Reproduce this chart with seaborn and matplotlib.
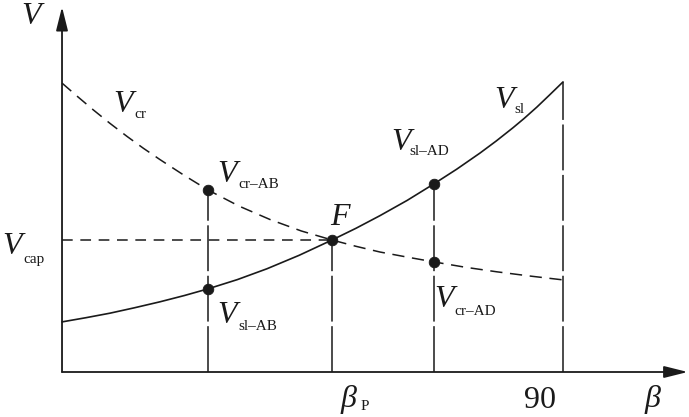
import numpy as np
import pandas as pd
import seaborn as sns
import matplotlib.pyplot as plt

# curve readings (beta in degrees, V in arbitrary units)
beta_sl = [0, 4.3, 8.6, 13.0, 17.6, 22.0, 26.2, 31.5, 36.8, 42.6, 48.5,
           52.8, 57.1, 62.0, 66.8, 70.9, 75.1, 78.0, 81.0, 83.0, 85.3,
           87.5, 90]
v_sl = [16.7, 18.1, 19.6, 21.4, 23.4, 25.5, 27.7, 30.8, 34.4, 38.9, 44.0,
        47.9, 52.1, 57.2, 62.7, 67.6, 73.0, 77.0, 81.4, 84.5, 88.3,
        92.2, 96.7]

beta_cr = [0, 2.8, 5.6, 8.6, 11.7, 14.6, 17.6, 21.9, 26.2, 31.8, 37.4,
           43.0, 48.5, 52.8, 57.1, 62.0, 66.8, 72.5, 78.1, 84.0, 90]
v_cr = [96.3, 91.8, 87.4, 82.9, 78.5, 74.6, 70.8, 65.6, 60.7, 55.3, 50.8,
        47.0, 44.0, 41.9, 40.0, 38.3, 36.7, 34.9, 33.4, 32.0, 30.7]

# marked points
pt_beta = [26.2, 26.2, 48.5, 66.8, 66.8]
pt_v = [60.7, 27.7, 44.0, 62.7, 36.7]

# guide lines
guide_beta = [26.2, 48.5, 66.8, 90]
guide_top = [60.7, 44.0, 62.7, 96.7]
v_cap = 44.0
beta_p = 48.5

W, H = 689, 417

sns.set_style("white")
plt.rcParams['font.family'] = ['Liberation Serif', 'DejaVu Serif']

fig = plt.figure(figsize=(W / 100, H / 100), dpi=100)
ax = fig.add_axes([0, 0, 1, 1])
ax.set_xlim(-11.14, 112.63)
ax.set_ylim(-15, 124)
ax.axis('off')

ink = '#1a1a1a'

sl_df = pd.DataFrame({'beta': beta_sl, 'V': v_sl})
cr_df = pd.DataFrame({'beta': beta_cr, 'V': v_cr})
sns.lineplot(data=sl_df, x='beta', y='V', ax=ax, color=ink, lw=1.2,
             sort=False, estimator=None)
sns.lineplot(data=cr_df, x='beta', y='V', ax=ax, color=ink, lw=1.1,
             sort=False, estimator=None, linestyle=(0, (8, 5)))

# vertical guides and V_cap level
ax.vlines(guide_beta, 0, guide_top, colors=ink, lw=1.1,
          linestyles=[(0, (30, 3))])
ax.hlines(v_cap, 0, beta_p, colors=ink, lw=1.1, linestyles=[(0, (7, 5))])

sns.scatterplot(x=pt_beta, y=pt_v, ax=ax, color=ink, s=58,
                edgecolor=ink, zorder=5)

# axes with arrows
arrow = dict(arrowstyle='-|>,head_length=0.8,head_width=0.2', lw=1.3,
             color=ink, mutation_scale=18, shrinkA=0, shrinkB=0)
ax.annotate('', xy=(0, 121.7), xytext=(0, 0), arrowprops=arrow)
ax.annotate('', xy=(112.4, 0), xytext=(0, 0), arrowprops=arrow)


def put(x, y, s, size, style='normal'):
    fig.text(x / W, 1 - y / H, s, fontsize=size, fontstyle=style,
             ha='left', va='baseline', color=ink)


def vlabel(x, y, sub, dx, dy, main='V'):
    put(x, y, main, 23, 'italic')
    put(x + dx, y + dy, sub, 11)


put(21, 24, 'V', 23, 'italic')
vlabel(113, 112, 'cr', 21, 6)
vlabel(217, 182, 'cr\u2013AB', 21, 6)
vlabel(2, 254, 'cap', 21, 9)
vlabel(217, 323, 'sl\u2013AB', 21, 7)
vlabel(391, 150, 'sl\u2013AD', 18, 5)
vlabel(494, 108, 'sl', 20, 5)
vlabel(434, 307, 'cr\u2013AD', 20, 8)
put(330, 225, 'F', 23, 'italic')
put(341, 407, '\u03b2', 23, 'italic')
put(361, 410, 'P', 11)
put(524, 408, '90', 23)
put(645, 407, '\u03b2', 23, 'italic')

fig.savefig('out.png', dpi=100)
